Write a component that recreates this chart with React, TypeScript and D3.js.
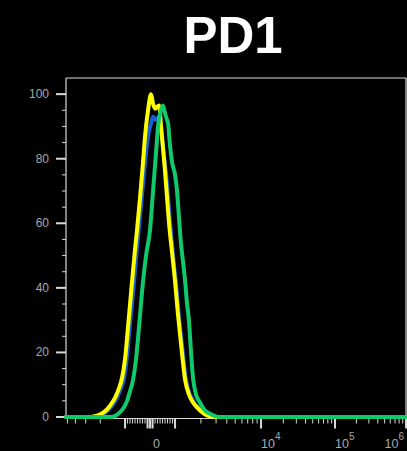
import React from "react";
import * as d3 from "d3";

const W = 407;
const H = 451;

// ---- data (fluorescence value, % of max) ----
const blueX = [-5200, -2530, -2020, -1700, -1440, -1250, -1120, -1030, -920, -800, -640, -520, -440, -320, -200, -80, 40, 120, 200, 280, 360, 440, 560, 680, 760, 840, 920, 1030, 1110, 1210, 1340, 1490, 1660, 1850, 2120, 2420, 2770, 1e6];
const blueY = [0, 0, 0.5, 1.5, 3.5, 6, 9, 12, 19, 29, 42, 53, 59, 69, 79, 87, 91, 93, 92, 92.5, 93, 89, 81, 72, 64, 57, 50, 41, 31, 22, 11.5, 7, 4.5, 3, 1.5, 0.5, 0, 0];

const yellowX = [-5200, -2670, -2130, -1800, -1520, -1320, -1180, -1090, -1000, -880, -720, -600, -520, -400, -280, -200, -80, 40, 120, 200, 280, 360, 440, 520, 600, 680, 760, 880, 1000, 1080, 1170, 1310, 1450, 1620, 1800, 2060, 2360, 2690, 1e6];
const yellowY = [0, 0, 0.5, 1.5, 3.5, 6, 9, 12, 18, 28, 42, 52, 58, 68, 79, 87, 95, 100, 97, 95.5, 96, 96.5, 90, 83, 76, 68, 60, 51, 42, 32, 23, 11.5, 7, 4.5, 3, 1.5, 0.5, 0, 0];

const greenX = [-5200, -1520, -1290, -1150, -1030, -920, -800, -680, -560, -440, -280, -160, 0, 120, 240, 320, 400, 480, 520, 600, 680, 720, 800, 880, 1000, 1055, 1110, 1170, 1240, 1310, 1380, 1450, 1535, 1620, 1755, 1950, 2230, 2550, 2920, 3340, 1e6];
const greenY = [0, 0, 0.5, 1.5, 3, 5, 8, 11.5, 18, 28, 42, 50, 58, 70, 82, 90, 94, 96, 96.5, 94, 92, 91, 84, 79, 75, 70, 62, 54, 48, 42, 35, 30, 20, 12, 7, 4.5, 2, 1, 0.3, 0, 0];

const seriesColors = ["#1a5fd0", "#ffff00", "#10c96c"];

const title = "PD1";
const yTicks = [0, 20, 40, 60, 80, 100];
const yMinorTicks = d3.range(0, 105, 5);
const xDecadeLabels = [4, 5, 6];
const xMajorTicks = [-1000, -100, 0, 100, 1000, 1e4, 1e5, 1e6];
const X_MIN = -5200;
const X_MAX = 1e6;

// biexponential-like display transform
const NEG_DECADE = 3.3;
const POS_DECADES = [3.44, 2.96, 2.84];
function T(v: number): number {
  const a = Math.abs(v);
  if (a <= 1000) return v / 1000;
  const l = Math.log10(a) - 3;
  if (v < 0) return -(1 + NEG_DECADE * l);
  let t = 1;
  let rem = l;
  for (const w of POS_DECADES) {
    const s = Math.min(rem, 1);
    t += w * s;
    rem -= s;
    if (rem <= 0) break;
  }
  return t;
}

const left = 66, right = 406, top = 78, bottom = 417;

export default function App() {
  const xs = d3.scaleLinear().domain([T(X_MIN), T(X_MAX)]).range([left, right]);
  const x = (v: number) => xs(T(v));
  const y = d3.scaleLinear().domain([0, 105]).range([bottom, top]);

  const line = d3
    .line<[number, number]>()
    .x((d) => x(d[0]))
    .y((d) => y(d[1]))
    .curve(d3.curveMonotoneX);

  const series = [
    { xs: blueX, ys: blueY, color: seriesColors[0] },
    { xs: yellowX, ys: yellowY, color: seriesColors[1] },
    { xs: greenX, ys: greenY, color: seriesColors[2] },
  ];

  const minorX: number[] = [];
  for (let v = -900; v <= 900; v += 100) if (v !== 0 && Math.abs(v) !== 100) minorX.push(v);
  for (let m = 2; m <= 5; m++) minorX.push(-m * 1000);
  for (let d = 3; d <= 5; d++) for (let m = 2; m <= 9; m++) minorX.push(m * Math.pow(10, d));

  const axisY = bottom + 1.5;
  const axisColor = "#d8d8d8";
  const labelColor = "#a8a8a8";
  const font = "Liberation Sans, Arial, sans-serif";

  return (
    <svg width={W} height={H} style={{ position: "absolute", left: 0, top: 0, display: "block" }}>
      <rect x={0} y={0} width={W} height={H} fill="#000" />
      <text x={233} y={53} textAnchor="middle" fill="#fff" fontFamily={font} fontWeight="bold" fontSize={51}>
        {title}
      </text>

      {/* frame */}
      <line x1={left} x2={right} y1={top} y2={top} stroke={axisColor} strokeWidth={1.2} />
      <line x1={right} x2={right} y1={top} y2={axisY} stroke={axisColor} strokeWidth={1.2} />
      <line x1={left} x2={left} y1={top} y2={axisY} stroke={axisColor} strokeWidth={1.2} />
      <line x1={left} x2={right} y1={axisY} y2={axisY} stroke={axisColor} strokeWidth={1.2} />

      {/* y ticks */}
      {yMinorTicks.map((t) => (
        <line key={"ym" + t} x1={left - 4} x2={left} y1={y(t)} y2={y(t)} stroke={axisColor} strokeWidth={1} />
      ))}
      {yTicks.map((t) => (
        <g key={"y" + t}>
          <line x1={left - 10} x2={left} y1={y(t)} y2={y(t)} stroke={axisColor} strokeWidth={2} />
          <text x={49} y={y(t) + 4} textAnchor="end" fill={labelColor} fontFamily={font} fontSize={12}>
            {t}
          </text>
        </g>
      ))}

      {/* x ticks */}
      {minorX.map((t) => (
        <line key={"xm" + t} x1={x(t)} x2={x(t)} y1={axisY} y2={axisY + 5} stroke={axisColor} strokeWidth={1} />
      ))}
      {xMajorTicks.map((t) => (
        <line key={"xM" + t} x1={x(t)} x2={x(t)} y1={axisY} y2={axisY + 10} stroke={axisColor} strokeWidth={2} />
      ))}
      <text x={x(0) + 6.5} y={448} textAnchor="middle" fill={labelColor} fontFamily={font} fontSize={12.5}>
        0
      </text>
      {xDecadeLabels.map((d, i) => {
        const last = i === xDecadeLabels.length - 1;
        return (
          <text
            key={"xl" + d}
            x={last ? x(Math.pow(10, d)) - 2 : x(Math.pow(10, d))}
            y={448}
            textAnchor={last ? "end" : "start"}
            fill={labelColor}
            fontFamily={font}
            fontSize={12.5}
          >
            10
            <tspan dy={-8} fontSize={10}>
              {d}
            </tspan>
          </text>
        );
      })}

      {/* curves */}
      {series.map((s, i) => (
        <path
          key={"s" + i}
          d={line(s.xs.map((v, j) => [v, s.ys[j]] as [number, number])) || ""}
          fill="none"
          stroke={s.color}
          strokeWidth={4}
          strokeLinejoin="round"
          strokeLinecap="round"
        />
      ))}
    </svg>
  );
}
